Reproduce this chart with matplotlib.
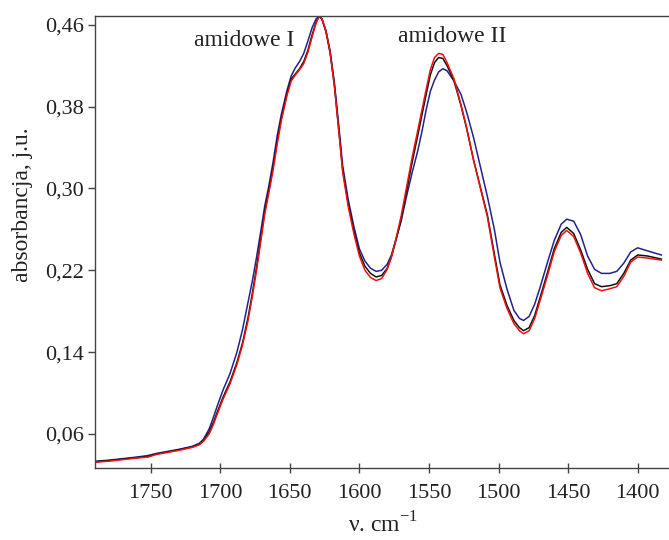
#########################################
# FTIR spectrum, amide I / amide II region
#########################################

import matplotlib
matplotlib.use("Agg")
import matplotlib.pyplot as plt
from matplotlib.ticker import FuncFormatter

plt.rcParams['font.family'] = ['Liberation Serif', 'DejaVu Serif']
plt.rcParams['mathtext.fontset'] = 'custom'
plt.rcParams['mathtext.rm'] = 'Liberation Serif'

# wavenumbers, cm-1
wavenumber = [1789, 1780, 1770, 1760, 1752, 1746, 1740, 1730, 1720, 1715,
              1712, 1708, 1705, 1702, 1698, 1693, 1688, 1684, 1680, 1677,
              1674, 1671, 1668, 1665, 1662, 1659, 1656, 1652, 1649, 1646,
              1643, 1640, 1637, 1634, 1631, 1629, 1627, 1624, 1621, 1618,
              1615, 1612, 1608, 1604, 1600, 1596, 1592, 1588, 1584, 1580,
              1577, 1574, 1570, 1566, 1562, 1558, 1555, 1552, 1549, 1546,
              1543, 1540, 1537, 1532, 1527, 1523, 1518, 1513, 1508, 1503,
              1499, 1494, 1489, 1485, 1482, 1478, 1474, 1470, 1465, 1460,
              1455, 1451, 1446, 1441, 1436, 1431, 1426, 1420, 1415, 1410,
              1405, 1400, 1393, 1383]

abs_blue = [0.0335, 0.0345, 0.036, 0.0375, 0.039, 0.041, 0.0425, 0.045, 0.048, 0.051,
            0.055, 0.065, 0.076, 0.088, 0.103, 0.119, 0.140, 0.162, 0.189, 0.209,
            0.232, 0.257, 0.283, 0.303, 0.326, 0.352, 0.373, 0.396, 0.410, 0.418,
            0.424, 0.432, 0.444, 0.457, 0.466, 0.468, 0.466, 0.454, 0.434, 0.404,
            0.364, 0.322, 0.289, 0.263, 0.241, 0.229, 0.222, 0.219, 0.220, 0.226,
            0.235, 0.249, 0.268, 0.293, 0.316, 0.337, 0.356, 0.377, 0.395, 0.406,
            0.414, 0.417, 0.415, 0.405, 0.392, 0.375, 0.350, 0.321, 0.292, 0.260,
            0.228, 0.202, 0.181, 0.173, 0.171, 0.175, 0.187, 0.204, 0.227, 0.249,
            0.265, 0.270, 0.268, 0.255, 0.234, 0.221, 0.217, 0.217, 0.219, 0.227,
            0.238, 0.242, 0.239, 0.235]

abs_black = [0.033, 0.034, 0.0355, 0.037, 0.038, 0.0405, 0.042, 0.0445, 0.0475, 0.050,
             0.054, 0.062, 0.071, 0.082, 0.096, 0.111, 0.130, 0.149, 0.174, 0.197,
             0.222, 0.250, 0.278, 0.299, 0.321, 0.347, 0.369, 0.393, 0.407, 0.412,
             0.417, 0.424, 0.435, 0.450, 0.463, 0.468, 0.466, 0.453, 0.432, 0.401,
             0.360, 0.318, 0.285, 0.259, 0.237, 0.224, 0.217, 0.2135, 0.215, 0.222,
             0.233, 0.248, 0.270, 0.298, 0.326, 0.352, 0.372, 0.392, 0.411, 0.423,
             0.428, 0.427, 0.420, 0.405, 0.381, 0.359, 0.328, 0.301, 0.274, 0.236,
             0.206, 0.186, 0.171, 0.164, 0.161, 0.164, 0.176, 0.194, 0.217, 0.241,
             0.257, 0.262, 0.256, 0.240, 0.221, 0.207, 0.204, 0.205, 0.207, 0.217,
             0.230, 0.235, 0.234, 0.231]

abs_red = [0.0325, 0.0335, 0.035, 0.0365, 0.0375, 0.040, 0.0415, 0.044, 0.047, 0.0495,
           0.053, 0.060, 0.069, 0.080, 0.094, 0.109, 0.128, 0.147, 0.171, 0.194,
           0.219, 0.247, 0.275, 0.296, 0.318, 0.344, 0.367, 0.391, 0.405, 0.411,
           0.416, 0.422, 0.433, 0.448, 0.462, 0.468, 0.466, 0.454, 0.433, 0.401,
           0.359, 0.316, 0.282, 0.256, 0.234, 0.220, 0.213, 0.210, 0.212, 0.221,
           0.233, 0.249, 0.273, 0.302, 0.331, 0.357, 0.377, 0.397, 0.416, 0.428,
           0.432, 0.431, 0.423, 0.407, 0.382, 0.360, 0.328, 0.300, 0.272, 0.233,
           0.203, 0.183, 0.168, 0.161, 0.158, 0.161, 0.173, 0.191, 0.214, 0.238,
           0.254, 0.259, 0.253, 0.237, 0.217, 0.203, 0.200, 0.202, 0.204, 0.214,
           0.228, 0.233, 0.232, 0.230]

x_ticks = [1750, 1700, 1650, 1600, 1550, 1500, 1450, 1400]
y_ticks = [0.06, 0.14, 0.22, 0.30, 0.38, 0.46]


def comma(v, pos):
    return ("%.2f" % v).replace(".", ",")


fig = plt.figure(figsize=(6.69, 5.40), dpi=100)
ax = fig.add_axes([0.142, 0.1333, 0.858, 0.837])

# spectra
ax.plot(wavenumber, abs_blue, color="#22228c", lw=1.1)
ax.plot(wavenumber, abs_black, color="#111111", lw=1.1)
ax.plot(wavenumber, abs_red, color="#ee1111", lw=1.1)

ax.set_xlim(1790, 1377.5)
ax.set_ylim(0.0268, 0.4685)
ax.set_xticks(x_ticks)
ax.set_yticks(y_ticks)
ax.yaxis.set_major_formatter(FuncFormatter(comma))

ax.spines['right'].set_visible(False)
for s in ['left', 'bottom', 'top']:
    ax.spines[s].set_color("#444444")
    ax.spines[s].set_linewidth(1.0)

ax.tick_params(axis='y', direction='out', length=5, width=1, colors="#444444",
               labelcolor="#222222", labelsize=16, pad=3)
ax.tick_params(axis='x', direction='inout', length=7, width=1, colors="#444444",
               labelcolor="#222222", labelsize=16, pad=8)

# band labels
ax.text(1682.5, 0.4395, "amidowe I", fontsize=17, color="#222222",
        ha='center', va='baseline')
ax.text(1533, 0.4434, "amidowe II", fontsize=17, color="#222222",
        ha='center', va='baseline')

ax.set_ylabel("absorbancja, j.u.", fontsize=17, color="#222222")
ax.yaxis.set_label_coords(-0.108, 0.582)
ax.set_xlabel(r"ν. cm$^{-1}$", fontsize=17, color="#222222")
ax.xaxis.set_label_coords(0.502, -0.125)
ax.xaxis.label.set_va('center')

fig.savefig("out.png", dpi=100)
